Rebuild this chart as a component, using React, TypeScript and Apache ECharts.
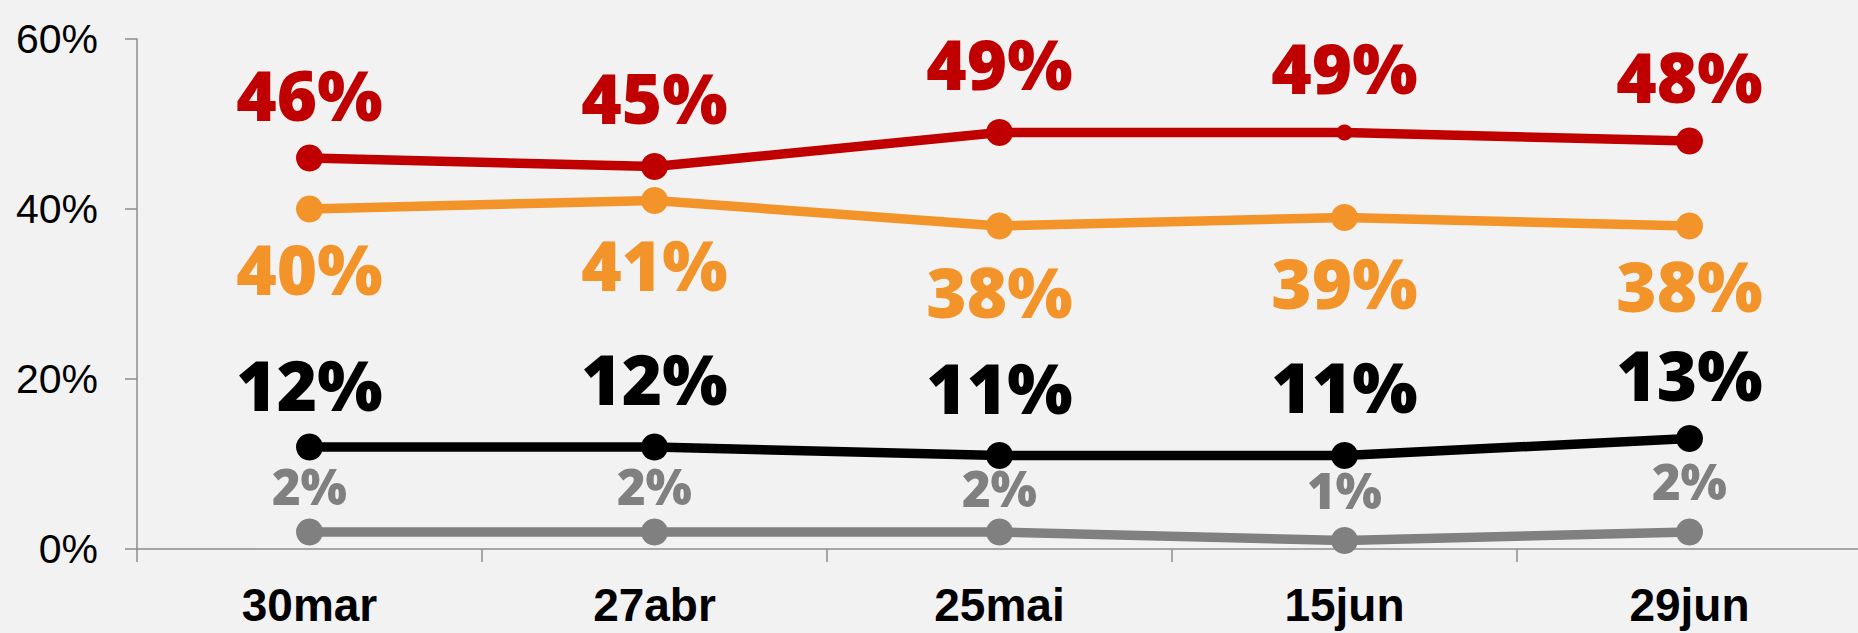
import React, { useEffect, useRef } from "react";
import * as echarts from "echarts";

const categories = ["30mar", "27abr", "25mai", "15jun", "29jun"];
const redValues = [46, 45, 49, 49, 48];
const orangeValues = [40, 41, 38, 39, 38];
const blackValues = [12, 12, 11, 11, 13];
const grayValues = [2, 2, 2, 1, 2];
const yTicks = [0, 20, 40, 60];

// label placement (vertical offset from each point, px)
const redLabelDy = [-64, -70, -70, -65.5, -65];
const orangeLabelDy = [59, 63.5, 64.5, 64.5, 59];
const blackLabelDy = [-63.5, -69.5, -68.5, -69.5, -64.5];
const grayLabelDy = [-46, -46, -44.5, -50.5, -51];

const labelFont = "'Open Sans', 'DejaVu Sans', sans-serif";

function makeSeries(
  name: string,
  values: number[],
  dys: number[],
  color: string,
  fontSize: number,
  small?: number
) {
  return {
    name,
    type: "line",
    data: values.map((v, i) => {
      const item: any = { value: v, label: { offset: [0, dys[i]] } };
      if (small === i) item.symbolSize = 16;
      return item;
    }),
    symbol: "circle",
    symbolSize: 27,
    showAllSymbol: true,
    lineStyle: { color, width: 9.5 },
    itemStyle: { color },
    label: {
      show: true,
      position: "inside",
      formatter: "{c}%",
      color,
      fontFamily: labelFont,
      fontWeight: 800,
      fontSize,
      align: "center",
      verticalAlign: "middle",
    },
    emphasis: { disabled: true },
  };
}

export default function App() {
  const ref = useRef<HTMLDivElement>(null);
  useEffect(() => {
    if (!ref.current) return;
    const chart = echarts.init(ref.current, undefined, { renderer: "svg" });
    chart.setOption({
      animation: false,
      backgroundColor: "#F2F2F2",
      grid: { left: 137, right: -4, top: 39, bottom: 84, containLabel: false, outerBoundsMode: "none" },
      xAxis: {
        type: "category",
        data: categories,
        boundaryGap: true,
        axisLine: { show: true, lineStyle: { color: "#8C8C8C", width: 1.5 } },
        axisTick: { show: true, length: 13, alignWithLabel: false, lineStyle: { color: "#8C8C8C", width: 1.5 } },
        axisLabel: {
          margin: 33,
          color: "#000",
          fontFamily: "'Liberation Sans', Arial, sans-serif",
          fontWeight: "bold",
          fontSize: 46,
        },
        splitLine: { show: false },
      },
      yAxis: {
        type: "value",
        min: yTicks[0],
        max: yTicks[yTicks.length - 1],
        interval: 20,
        axisLine: { show: true, lineStyle: { color: "#8C8C8C", width: 1.5 } },
        axisTick: { show: true, length: 12, inside: false, lineStyle: { color: "#8C8C8C", width: 1.5 } },
        axisLabel: {
          margin: 39,
          color: "#000",
          fontFamily: "'Liberation Sans', Arial, sans-serif",
          fontSize: 41,
          formatter: "{value}%",
        },
        splitLine: { show: false },
      },
      series: [
        makeSeries("gray", grayValues, grayLabelDy, "#808080", 49),
        makeSeries("black", blackValues, blackLabelDy, "#000000", 69),
        makeSeries("orange", orangeValues, orangeLabelDy, "#F29429", 69),
        makeSeries("red", redValues, redLabelDy, "#C00000", 69, 3),
      ],
    });
    return () => chart.dispose();
  }, []);
  return (
    <div
      ref={ref}
      style={{ position: "absolute", left: 0, top: 0, width: 1858, height: 633, background: "#F2F2F2" }}
    />
  );
}
